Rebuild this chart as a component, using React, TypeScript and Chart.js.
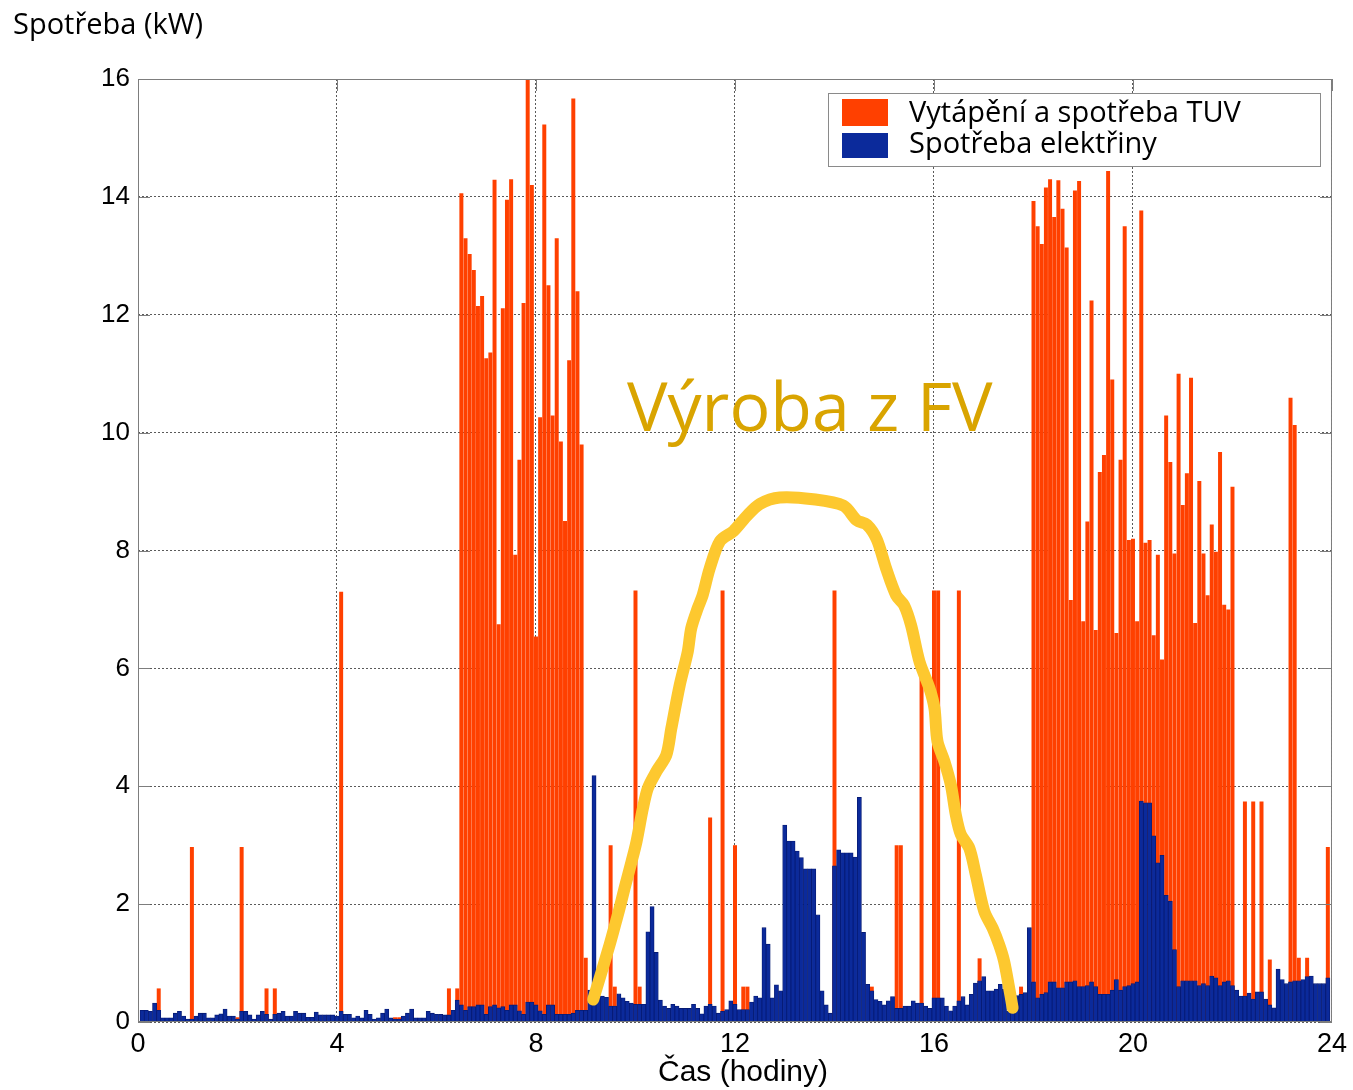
import React, { useEffect, useRef } from 'react';
import { Chart, registerables } from 'chart.js';

Chart.register(...registerables);

// 5-minute samples (12 per hour), one row = one hour
// Vytápění a spotřeba TUV (total height of the red bar, kW); 0 = no heating
const heatingKW: number[] = [
  0, 0, 0, 0, 0, 0.57, 0, 0, 0, 0, 0, 0,
  0, 2.97, 0, 0, 0, 0, 0, 0, 0, 0, 0, 0,
  0.08, 2.97, 0, 0, 0, 0, 0, 0.57, 0, 0.57, 0, 0,
  0, 0, 0, 0, 0, 0, 0, 0, 0, 0, 0, 0,
  0, 7.3, 0, 0, 0, 0, 0, 0, 0, 0, 0, 0,
  0, 0, 0.08, 0.08, 0, 0, 0, 0, 0, 0, 0, 0,
  0, 0, 0, 0.57, 0, 0.57, 14.06, 13.3, 13.03, 12.76, 12.15, 12.32,
  11.26, 11.36, 14.29, 6.75, 12.11, 13.95, 14.3, 7.93, 9.54, 12.2, 16, 14.2,
  6.54, 10.26, 15.23, 12.5, 10.29, 13.3, 9.85, 8.5, 11.23, 15.67, 12.4, 9.8,
  1.09, 0, 0, 0, 0, 0, 3.0, 0.6, 0, 0, 0, 0,
  7.32, 0.6, 0, 0, 0, 0, 0, 0, 0, 0, 0, 0,
  0, 0, 0, 0, 0, 0, 3.47, 0, 0, 7.32, 0, 0,
  3.0, 0, 0.6, 0.6, 0, 0, 0, 0, 0, 0, 0, 0,
  0, 0, 0, 0, 0, 0, 0, 0, 0, 0, 0, 0,
  7.32, 0, 0, 0, 0, 0, 0, 0, 0, 0.6, 0, 0,
  0, 0, 0, 3.0, 3.0, 0, 0, 0, 0, 6.2, 0, 0,
  7.32, 7.32, 0, 0, 0, 0, 7.32, 0, 0, 0, 0, 1.08,
  0, 0, 0, 0, 0, 0, 0, 0, 0, 0.6, 0, 0,
  13.93, 13.5, 13.2, 14.16, 14.3, 13.66, 14.28, 13.8, 13.14, 7.16, 14.11, 14.27,
  6.8, 8.49, 12.24, 6.65, 9.33, 9.62, 14.44, 10.9, 6.6, 9.54, 13.5, 8.18,
  8.2, 6.8, 13.77, 8.13, 8.18, 6.56, 7.93, 6.15, 10.29, 9.5, 7.95, 11.0,
  8.77, 9.31, 10.93, 6.77, 9.18, 7.95, 7.24, 8.44, 7.98, 9.67, 7.08, 7.0,
  9.08, 0, 0, 3.74, 0, 3.74, 0, 3.74, 0, 1.06, 0, 0,
  0, 0, 10.59, 10.13, 1.09, 0, 1.09, 0, 0, 0, 0, 2.97,
];

// Spotřeba elektřiny (kW)
const electricityKW: number[] = [
  0, 0.2, 0.2, 0.18, 0.32, 0.2, 0.07, 0.07, 0.07, 0.15, 0.18, 0.1,
  0.05, 0.05, 0.1, 0.15, 0.15, 0.07, 0.07, 0.12, 0.14, 0.22, 0.1, 0.1,
  0.05, 0.18, 0.18, 0.12, 0.05, 0.12, 0.18, 0.13, 0.05, 0.13, 0.15, 0.18,
  0.1, 0.1, 0.18, 0.15, 0.15, 0.08, 0.08, 0.17, 0.12, 0.12, 0.12, 0.12,
  0.1, 0.18, 0.13, 0.13, 0.07, 0.1, 0.07, 0.2, 0.13, 0.05, 0.07, 0.15,
  0.22, 0.07, 0.05, 0.05, 0.1, 0.15, 0.22, 0.07, 0.07, 0.07, 0.18, 0.15,
  0.13, 0.13, 0.12, 0.12, 0.2, 0.37, 0.29, 0.2, 0.26, 0.26, 0.29, 0.29,
  0.13, 0.26, 0.29, 0.24, 0.26, 0.2, 0.29, 0.29, 0.19, 0.13, 0.34, 0.34,
  0.29, 0.19, 0.13, 0.29, 0.29, 0.13, 0.13, 0.13, 0.13, 0.15, 0.2, 0.2,
  0.2, 0.54, 4.18, 0.44, 0.44, 0.42, 0.27, 0.27, 0.48, 0.41, 0.35, 0.32,
  0.3, 0.3, 0.3, 1.53, 1.96, 1.18, 0.37, 0.27, 0.23, 0.3, 0.27, 0.23,
  0.23, 0.23, 0.3, 0.23, 0.14, 0.27, 0.3, 0.27, 0.15, 0.18, 0.21, 0.36,
  0.3, 0.21, 0.21, 0.21, 0.34, 0.44, 0.41, 1.6, 1.32, 0.41, 0.63, 0.53,
  3.34, 3.07, 3.07, 2.9, 2.79, 2.6, 2.6, 2.6, 1.82, 0.53, 0.29, 0.15,
  2.65, 2.92, 2.87, 2.87, 2.87, 2.8, 3.81, 1.52, 0.64, 0.53, 0.38, 0.35,
  0.29, 0.36, 0.43, 0.23, 0.23, 0.27, 0.27, 0.36, 0.32, 0.32, 0.27, 0.23,
  0.41, 0.41, 0.41, 0.27, 0.19, 0.27, 0.36, 0.43, 0.29, 0.47, 0.66, 0.7,
  0.77, 0.53, 0.53, 0.56, 0.64, 0.56, 0.18, 0.18, 0.45, 0.47, 0.5, 1.6,
  0.68, 0.41, 0.47, 0.5, 0.68, 0.68, 0.58, 0.58, 0.68, 0.68, 0.7, 0.6,
  0.6, 0.62, 0.68, 0.6, 0.47, 0.47, 0.47, 0.54, 0.72, 0.54, 0.6, 0.62,
  0.65, 0.68, 3.75, 3.72, 3.72, 3.16, 2.7, 2.83, 2.15, 2.05, 1.23, 0.6,
  0.7, 0.7, 0.7, 0.7, 0.62, 0.65, 0.62, 0.78, 0.75, 0.62, 0.68, 0.7,
  0.62, 0.54, 0.44, 0.44, 0.49, 0.39, 0.51, 0.51, 0.39, 0.29, 0.24, 0.9,
  0.72, 0.65, 0.68, 0.7, 0.7, 0.72, 0.77, 0.78, 0.65, 0.65, 0.65, 0.75,
];

// Hand-drawn "Výroba z FV" curve: hour and kW
const fvHours: number[] = [
  9.15, 9.48, 9.61, 9.68, 9.78, 9.92, 10.02, 10.15, 10.25, 10.42, 10.62, 10.72,
  10.89, 11.05, 11.12, 11.25, 11.35, 11.49, 11.7, 11.97, 12.23, 12.5, 12.9, 13.57,
  14.18, 14.45, 14.65, 14.85, 15.04, 15.24, 15.4, 15.54, 15.71, 15.91, 16.01, 16.07,
  16.21, 16.34, 16.44, 16.54, 16.71, 16.84, 17.01, 17.18, 17.31, 17.41, 17.51, 17.58,
];
const fvKW: number[] = [
  0.38, 1.31, 1.71, 1.93, 2.27, 2.72, 3.06, 3.63, 3.97, 4.25, 4.53, 4.98,
  5.72, 6.28, 6.68, 7.02, 7.24, 7.69, 8.16, 8.33, 8.58, 8.79, 8.9, 8.87,
  8.76, 8.51, 8.44, 8.19, 7.69, 7.24, 7.07, 6.73, 6.11, 5.66, 5.32, 4.76,
  4.42, 4.02, 3.51, 3.18, 2.95, 2.5, 1.88, 1.59, 1.31, 1.03, 0.58, 0.24,
];

const SAMPLES_PER_HOUR = 12;
const RED = '#FF4000';
const BLUE = '#0B2A9B';
const BLUE_EDGE = '#061a73';
const FV_YELLOW = '#FDC82F';
const FV_TEXT = '#D9A400';
const TICK_FONT = '"Liberation Sans", Arial, sans-serif';
const TEXT_FONT = '"Open Sans", "DejaVu Sans", sans-serif';

const annotationPlugin = {
  id: 'annotationPlugin',
  afterDraw(chart: any) {
    const { ctx, chartArea: a, scales } = chart;
    ctx.save();
    // frame
    ctx.strokeStyle = '#7d7d7d';
    ctx.lineWidth = 1;
    ctx.strokeRect(a.left + 0.5, a.top + 0.5, a.right - a.left - 1, a.bottom - a.top - 1);
    // inner ticks
    ctx.beginPath();
    scales.y.ticks.forEach((t: any) => {
      const y = Math.round(scales.y.getPixelForValue(t.value)) + 0.5;
      ctx.moveTo(a.left, y); ctx.lineTo(a.left + 12, y);
      ctx.moveTo(a.right - 12, y); ctx.lineTo(a.right, y);
    });
    scales.x.ticks.forEach((t: any) => {
      const x = Math.round(scales.x.getPixelForValue(t.value)) + 0.5;
      ctx.moveTo(x, a.top); ctx.lineTo(x, a.top + 12);
    });
    ctx.stroke();

    // axis titles
    ctx.fillStyle = '#000';
    ctx.textBaseline = 'alphabetic';
    ctx.textAlign = 'left';
    ctx.font = `29px ${TEXT_FONT}`;
    ctx.fillText('Spotřeba (kW)', 13, 34);
    ctx.textAlign = 'center';
    ctx.font = `30px "Liberation Sans", Arial, sans-serif`;
    ctx.fillText('Čas (hodiny)', 743, 1081);

    // FV label
    ctx.textAlign = 'left';
    ctx.fillStyle = FV_TEXT;
    ctx.font = `68px ${TEXT_FONT}`;
    ctx.fillText('Výroba z FV', 627, 431);

    // legend
    const ds = chart.data.datasets;
    ctx.fillStyle = '#fff';
    ctx.fillRect(828, 93, 492, 73);
    ctx.strokeStyle = '#8a8a8a';
    ctx.strokeRect(828.5, 93.5, 492, 73);
    ctx.fillStyle = RED;
    ctx.fillRect(842, 99, 46, 27);
    ctx.fillStyle = BLUE;
    ctx.fillRect(842, 133, 46, 25);
    ctx.fillStyle = '#000';
    ctx.font = `29px ${TEXT_FONT}`;
    ctx.fillText(ds[2].label, 909, 122);
    ctx.fillText(ds[1].label, 909, 153);
    ctx.restore();
  },
};

export default function App() {
  const canvasRef = useRef<HTMLCanvasElement | null>(null);

  useEffect(() => {
    if (!canvasRef.current) return;
    const hourOf = (i: number) => i / SAMPLES_PER_HOUR;
    const heatPts = heatingKW.map((v, i) => ({ x: hourOf(i), y: v > 0 ? v : null }));
    const elecPts = electricityKW.map((v, i) => ({ x: hourOf(i), y: v }));
    const fvPts = fvHours.map((h, i) => ({ x: h, y: fvKW[i] }));

    const chart = new Chart(canvasRef.current, {
      type: 'bar',
      data: {
        datasets: [
          {
            type: 'line',
            label: 'Výroba z FV',
            data: fvPts,
            borderColor: FV_YELLOW,
            borderWidth: 12,
            pointRadius: 0,
            tension: 0.3,
            borderCapStyle: 'round',
            borderJoinStyle: 'round',
            fill: false,
            order: 0,
          } as any,
          {
            label: 'Spotřeba elektřiny',
            data: elecPts,
            backgroundColor: BLUE,
            borderColor: BLUE_EDGE,
            borderWidth: 0.8,
            grouped: false,
            barPercentage: 1,
            categoryPercentage: 1,
            order: 1,
          } as any,
          {
            label: 'Vytápění a spotřeba TUV',
            data: heatPts,
            backgroundColor: RED,
            borderWidth: 0,
            grouped: false,
            barPercentage: 0.96,
            categoryPercentage: 1,
            order: 2,
          } as any,
        ],
      },
      options: {
        responsive: false,
        animation: false,
        layout: { padding: { left: 0, right: 20, top: 79, bottom: 0 } },
        plugins: { legend: { display: false }, tooltip: { enabled: false }, title: { display: false } },
        scales: {
          x: {
            type: 'linear',
            min: 0,
            max: 24,
            offset: false,
            ticks: { stepSize: 4, color: '#000', font: { family: TICK_FONT, size: 27 }, padding: 6, maxRotation: 0, autoSkip: false },
            grid: { color: '#5a5a5a', lineWidth: 1, drawTicks: false, offset: false },
            border: { display: false, dash: [2, 2] },
            afterFit: (s: any) => { s.height = 68; },
          },
          y: {
            type: 'linear',
            min: 0,
            max: 16,
            ticks: { stepSize: 2, color: '#000', font: { family: TICK_FONT, size: 26 }, padding: 8 },
            grid: { color: '#5a5a5a', lineWidth: 1, drawTicks: false },
            border: { display: false, dash: [2, 2] },
            afterFit: (s: any) => { s.width = 138; },
          },
        },
      } as any,
      plugins: [annotationPlugin],
    });
    return () => chart.destroy();
  }, []);

  return (
    <div style={{ position: 'absolute', left: 0, top: 0, width: 1353, height: 1090, background: '#fff' }}>
      <canvas ref={canvasRef} width={1353} height={1090} />
    </div>
  );
}
